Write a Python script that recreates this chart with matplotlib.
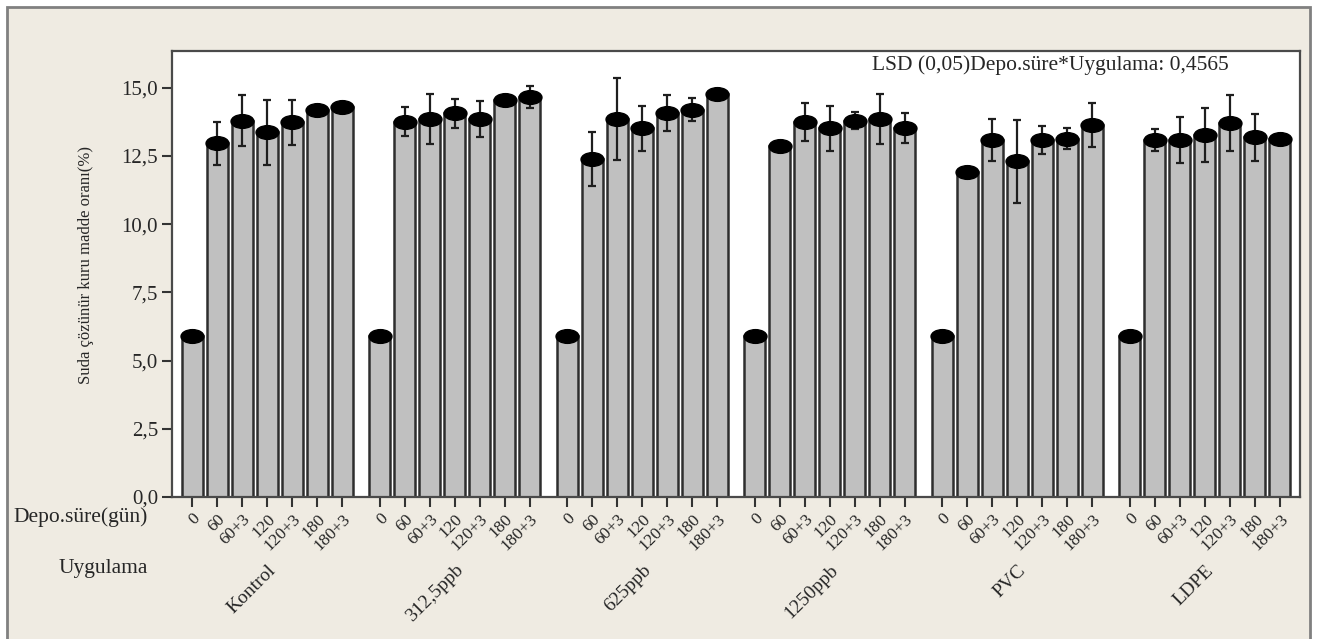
import numpy as np
import matplotlib.pyplot as plt
from matplotlib.path import Path
from matplotlib.transforms import Affine2D, blended_transform_factory
from matplotlib.patches import Rectangle
from matplotlib.ticker import FuncFormatter

plt.rcParams['font.family'] = ['Liberation Serif', 'DejaVu Serif']

##storage time labels and treatments
sureler = ['0', '60', '60+3', '120', '120+3', '180', '180+3']
uygulamalar = ['Kontrol', '312,5ppb', '625ppb', '1250ppb', 'PVC', 'LDPE']

##means (%) and error bar half-lengths per treatment
kontrol = [5.90, 12.97, 13.80, 13.37, 13.74, 14.18, 14.31]
kontrol_err = [0, 0.79, 0.94, 1.20, 0.82, 0, 0]
ppb312 = [5.90, 13.76, 13.86, 14.07, 13.86, 14.56, 14.66]
ppb312_err = [0, 0.52, 0.92, 0.53, 0.67, 0, 0.41]
ppb625 = [5.90, 12.39, 13.86, 13.51, 14.07, 14.19, 14.79]
ppb625_err = [0, 1.00, 1.50, 0.82, 0.66, 0.42, 0]
ppb1250 = [5.90, 12.88, 13.75, 13.51, 13.80, 13.87, 13.52]
ppb1250_err = [0, 0, 0.70, 0.82, 0.30, 0.92, 0.55]
pvc = [5.90, 11.93, 13.09, 12.30, 13.09, 13.14, 13.64]
pvc_err = [0, 0, 0.76, 1.52, 0.50, 0.38, 0.80]
ldpe = [5.90, 13.09, 13.09, 13.27, 13.70, 13.19, 13.12]
ldpe_err = [0, 0.41, 0.83, 1.00, 1.02, 0.86, 0]

lsd_text = 'LSD (0,05)Depo.süre*Uygulama: 0,4565'

degerler = [kontrol, ppb312, ppb625, ppb1250, pvc, ldpe]
hatalar = [kontrol_err, ppb312_err, ppb625_err, ppb1250_err, pvc_err, ldpe_err]

txt = '#262626'
fig = plt.figure(figsize=(13.22, 6.39), dpi=100, facecolor='white')
##beige panel behind everything
fig.add_artist(Rectangle((7/1322, -0.05), 1303/1322, 1.05 - 7/639,
                         transform=fig.transFigure, facecolor='#EFEBE2',
                         edgecolor='#808080', lw=2, zorder=-5))

ax = fig.add_axes([172/1322, 1 - 497/639, 1128/1322, 446/639])
ax.set_facecolor('white')

##flattened circle as the bar-top marker
ellipse = Path.unit_circle().transformed(Affine2D().scale(1, 0.6))

pitch = 7.5
xs_all = []
for g, (vals, errs) in enumerate(zip(degerler, hatalar)):
    xs = g*pitch + np.arange(len(sureler))
    xs_all.extend(xs)
    vals = np.array(vals)
    errs = np.array(errs)
    ax.bar(xs, vals, width=0.84, color='#c0c0c0', edgecolor='#2e2e2e',
           linewidth=1.8, zorder=2)
    m = errs > 0
    ax.errorbar(xs[m], vals[m], yerr=errs[m], fmt='none', ecolor='#1e1e1e',
                elinewidth=1.6, capsize=3, capthick=1.6, zorder=3)
    ax.plot(xs, vals, linestyle='none', marker=ellipse, markersize=16.5,
            color='black', zorder=4)

ax.set_xlim(-0.8, 5*pitch + 6 + 0.8)
ax.set_ylim(0, 16.35)
ax.set_yticks(np.arange(0, 15.1, 2.5))
ax.yaxis.set_major_formatter(FuncFormatter(lambda v, p: f'{v:.1f}'.replace('.', ',')))
ax.set_xticks(xs_all)
ax.set_xticklabels(sureler*len(uygulamalar), rotation=45, ha='right',
                   va='top', rotation_mode='anchor', fontsize=12.5, color=txt)
ax.tick_params(axis='x', length=7, width=1.5, color='#333333', pad=3)
ax.tick_params(axis='y', length=7, width=1.5, color='#333333', pad=3,
               labelsize=15, labelcolor=txt)
for s in ax.spines.values():
    s.set_color('#4a4a4a')
    s.set_linewidth(1.6)

##treatment names under each group
trans = blended_transform_factory(ax.transData, ax.transAxes)
for g, ad in enumerate(uygulamalar):
    ax.text(g*pitch + 3, -0.145, ad, transform=trans, rotation=45,
            ha='right', va='top', rotation_mode='anchor', fontsize=14,
            color=txt)

ax.text(0.6206, 0.968, lsd_text, transform=ax.transAxes, fontsize=15.5,
        ha='left', va='center', color=txt)

fig.text(148/1322, 1 - 517/639, 'Depo.süre(gün)', ha='right', va='center',
         fontsize=15.5, color=txt)
fig.text(148/1322, 1 - 568/639, 'Uygulama', ha='right', va='center',
         fontsize=15.5, color=txt)
fig.text(86/1322, 1 - 265/639, 'Suda çözünür kuru madde oranı(%)',
         rotation=90, ha='center', va='center', fontsize=12, color=txt)

fig.savefig('out.png', dpi=100)
